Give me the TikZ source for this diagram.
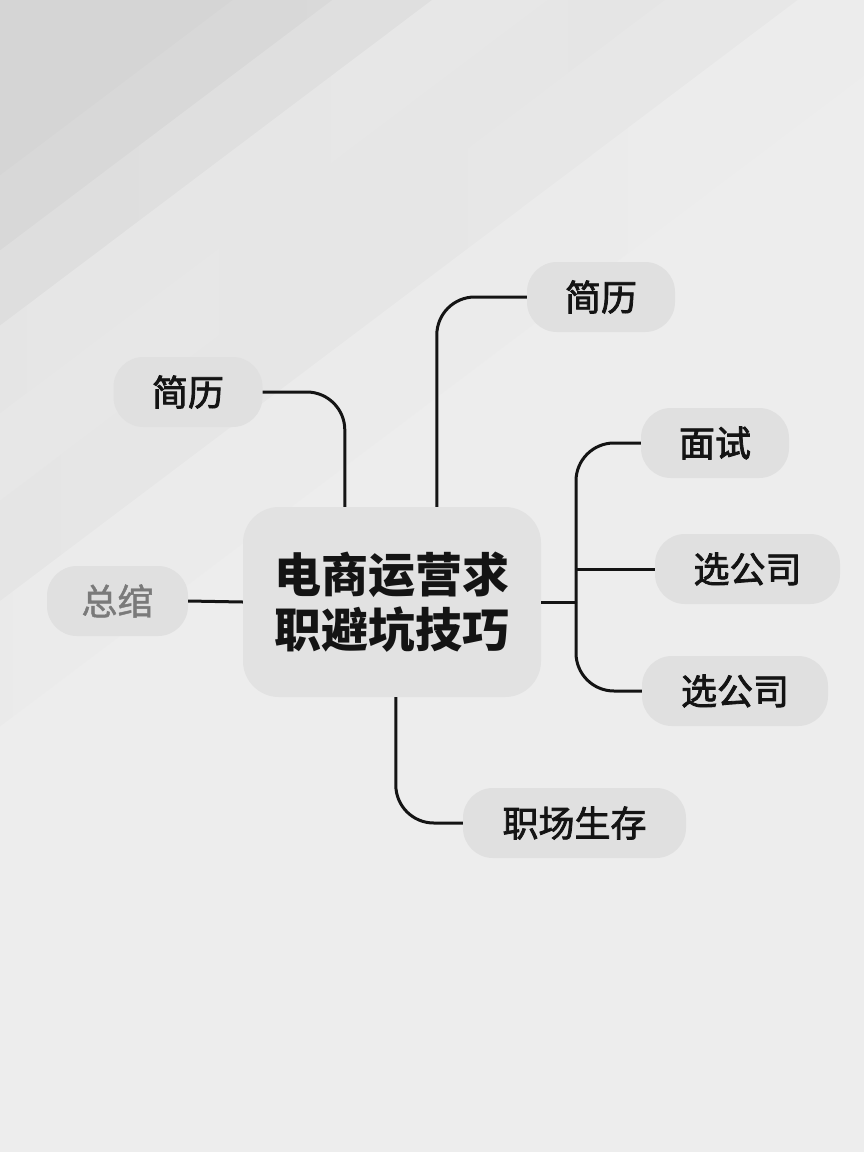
\documentclass[tikz,border=0pt]{standalone}
\usepackage{fontspec}
\newfontfamily\cjk{Noto Sans CJK SC}
\newfontfamily\cjkpill[FakeBold=2.2]{Noto Sans CJK SC}
\newfontfamily\cjkfaded[FakeBold=1.2]{Noto Sans CJK SC}
\usetikzlibrary{calc}
\definecolor{bgbase}{HTML}{EDEDED}
\definecolor{pillfill}{HTML}{E0E0E0}
\definecolor{centerfill}{HTML}{E2E2E2}
\definecolor{ink}{HTML}{141414}
\definecolor{fadedink}{HTML}{7A7A7A}
\definecolor{bgA}{HTML}{D5D5D5}
\definecolor{bgB}{HTML}{DBDBDB}
\definecolor{bgC}{HTML}{E2E2E2}
\definecolor{bgD}{HTML}{EAEAEA}
\definecolor{bgE}{HTML}{E3E3E3}
\definecolor{bgF}{HTML}{E9E9E9}
\tikzset{
  pill/.style={rectangle, rounded corners=30pt, fill=pillfill, minimum height=70pt, inner sep=0pt,
    font=\cjkpill\fontsize{36}{40}\selectfont, text=ink},
  centerbox/.style={rectangle, rounded corners=36pt, fill=centerfill, minimum width=298pt, minimum height=190pt,
    inner sep=0pt, align=center, font=\cjk\bfseries\fontsize{47}{55}\selectfont, text=ink},
  conn/.style={draw=ink, line width=3pt, rounded corners=38pt},
}
\begin{document}
\begin{tikzpicture}[x=1pt,y=-1pt]
\useasboundingbox (0,0) rectangle (864,1152);
% background
\fill[bgbase] (0,0) rectangle (864,1152);
\begin{scope}
\clip (0,0) rectangle (864,1152);
\begin{scope}[rotate=-53]
\fill[bgA] (-200,-1500) rectangle (141,1500);
\shade[left color=bgA, right color=bgB] (140,-1500) rectangle (201,1500);
\shade[left color=bgB, right color=bgC] (200,-1500) rectangle (261,1500);
\shade[left color=bgC, right color=bgD] (260,-1500) rectangle (331,1500);
\shade[left color=bgD, right color=bgE] (330,-1500) rectangle (401,1500);
\shade[left color=bgE, right color=bgF] (400,-1500) rectangle (481,1500);
\shade[left color=bgF, right color=bgbase] (480,-1500) rectangle (580,1500);
\end{scope}
\end{scope}
% nodes
\node[centerbox] (c) at (392,602) {电商运营求\\职避坑技巧};
\node[pill, minimum width=149pt] (tl) at (188,392) {简历};
\node[pill, minimum width=148pt] (tr) at (601,297) {简历};
\node[pill, minimum width=141pt, text=fadedink, font=\cjkfaded\fontsize{36}{40}\selectfont] (zj) at (117.5,601) {总绾};
\node[pill, minimum width=148pt] (ms) at (715,443) {面试};
\node[pill, minimum width=185pt] (x1) at (747.5,569) {选公司};
\node[pill, minimum width=186pt] (x2) at (735,691) {选公司};
\node[pill, minimum width=223pt] (zc) at (574.5,823) {职场生存};
\coordinate (j) at (576,602);
% connectors
\draw[conn] (tl.east) -| ($(c.north west)+(102,0)$);
\draw[conn] ($(c.north west)+(194,0)$) |- (tr.west);
\draw[conn] (zj.east) -- (c.west);
\draw[conn] (c.east) -- (j);
\draw[conn] (j) |- (ms.west);
\draw[conn] (j) |- (x2.west);
\draw[conn] (j |- x1.west) -- (x1.west);
\draw[conn] ($(c.south west)+(153,0)$) |- (zc.west);
\end{tikzpicture}
\end{document}
